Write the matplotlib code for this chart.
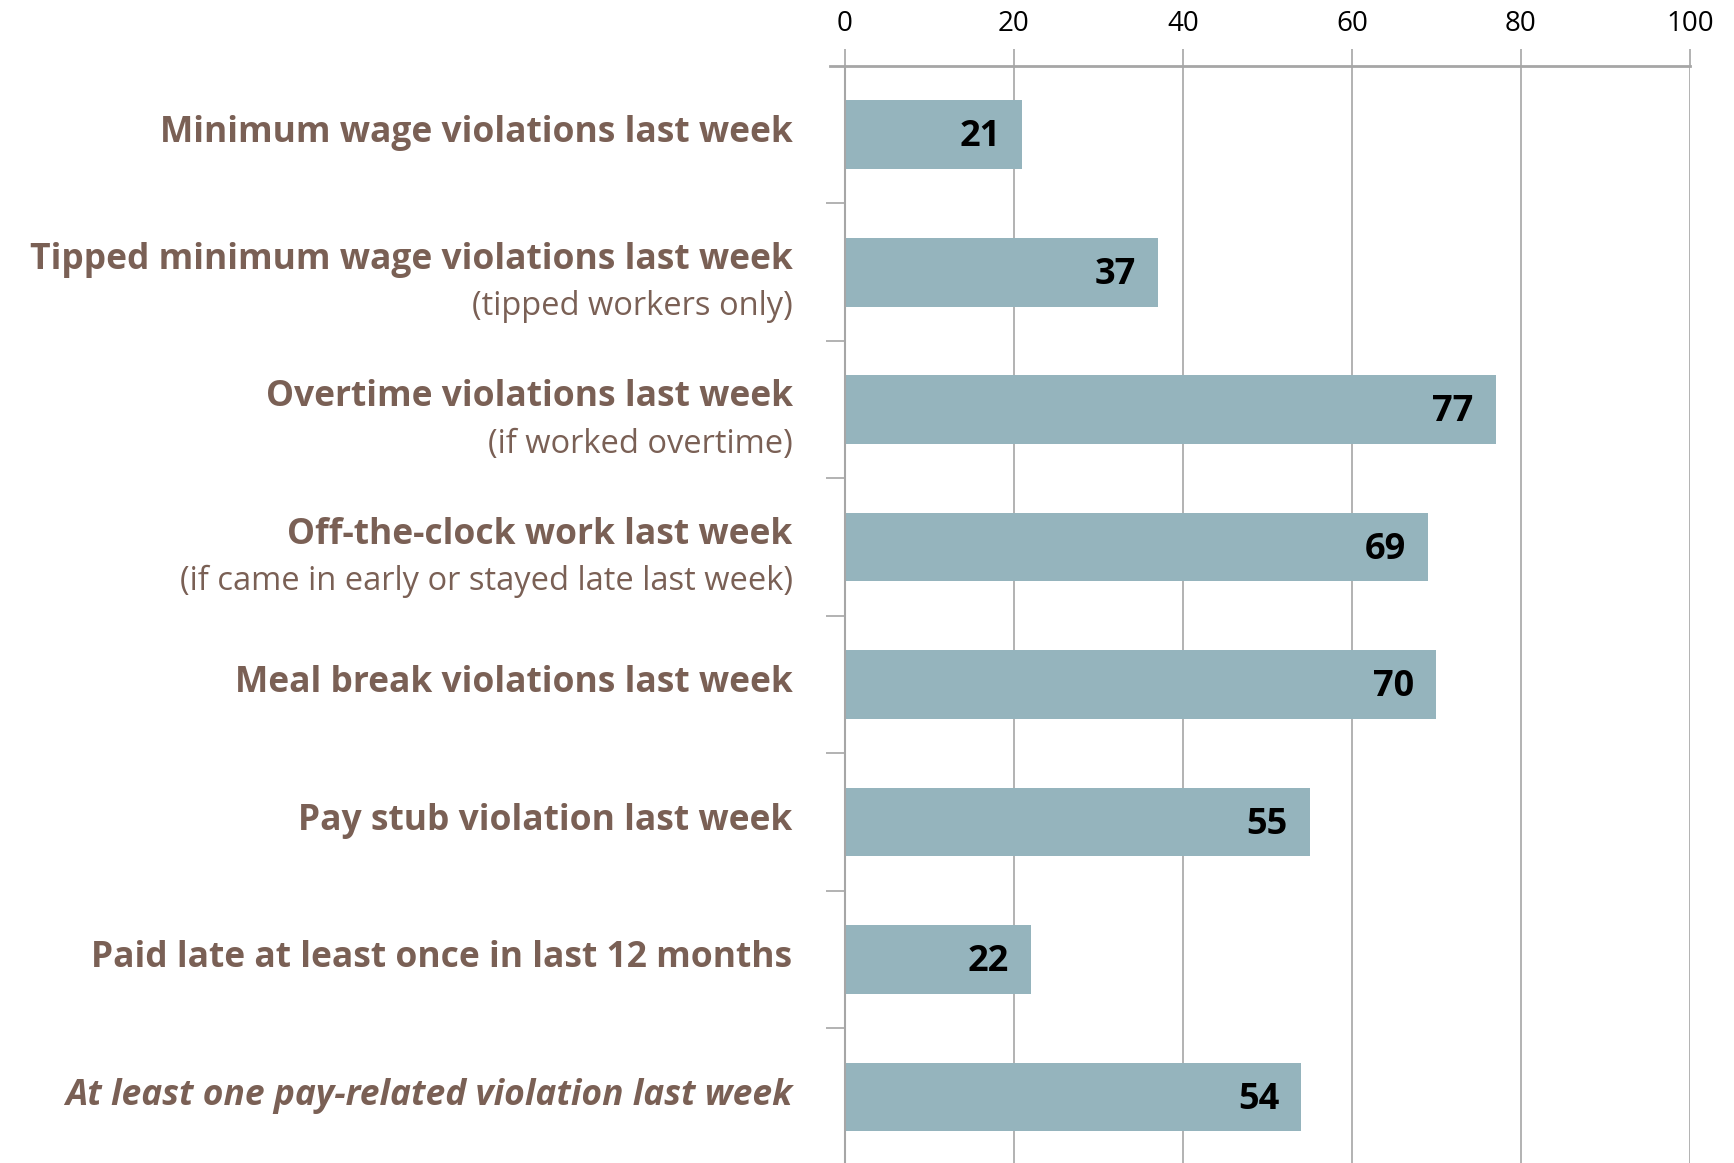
import matplotlib
matplotlib.use("Agg")
import matplotlib.pyplot as plt

categories = [
    "Minimum wage violations last week",
    "Tipped minimum wage violations last week",
    "Overtime violations last week",
    "Off-the-clock work last week",
    "Meal break violations last week",
    "Pay stub violation last week",
    "Paid late at least once in last 12 months",
    "At least one pay-related violation last week",
]
subtitles = [
    "",
    "(tipped workers only)",
    "(if worked overtime)",
    "(if came in early or stayed late last week)",
    "",
    "",
    "",
    "",
]
values = [21, 37, 77, 69, 70, 55, 22, 54]
xticks = [0, 20, 40, 60, 80, 100]

plt.rcParams['font.family'] = ['Open Sans', 'DejaVu Sans']

BAR = "#95B4BD"
TXT = "#7A6055"
GRID = "#A6A6A6"

fig = plt.figure(figsize=(17.34, 11.63), dpi=100)
ax = fig.add_axes([0.4873, 0.0, 0.9746 - 0.4873, 0.9433])

ypos = list(range(len(categories)))
ax.barh(ypos, values, height=0.5, color=BAR, zorder=2)
ax.set_xlim(0, 100)
ax.set_ylim(7.48, -0.5)

ax.xaxis.tick_top()
ax.set_xticks(xticks)
ax.set_xticklabels([str(t) for t in xticks], fontsize=20, color="black")
ax.tick_params(axis='x', length=12, width=1.2, color=GRID, pad=8)
ax.grid(axis='x', color=GRID, linewidth=1.2, zorder=1)

ax.set_yticks([i + 0.5 for i in range(len(categories) - 1)])
ax.set_yticklabels([])
ax.tick_params(axis='y', length=14, width=1.2, color=GRID)

for s in ['bottom', 'right']:
    ax.spines[s].set_visible(False)
ax.spines['left'].set_color(GRID)
ax.spines['left'].set_linewidth(1.5)
ax.spines['top'].set_color(GRID)
ax.spines['top'].set_linewidth(2)
ax.spines['top'].set_bounds(-1.8, 100)
ax.spines['top'].set_clip_on(False)

for i, v in enumerate(values):
    ax.text(v - 2.6, i + 0.02, str(v), ha='right', va='center', fontsize=26,
            fontweight='bold', color='black', zorder=3)

xl = -6.2
for i, (c, s) in enumerate(zip(categories, subtitles)):
    style = 'italic' if i == len(categories) - 1 else 'normal'
    if s:
        ax.text(xl, i - 0.09, c, ha='right', va='center', fontsize=25.5,
                fontweight='bold', color=TXT, style=style, clip_on=False)
        ax.text(xl, i + 0.25, s, ha='right', va='center', fontsize=23.5,
                color=TXT, clip_on=False)
    else:
        ax.text(xl, i - 0.01, c, ha='right', va='center', fontsize=25.5,
                fontweight='bold', color=TXT, style=style, clip_on=False)

fig.savefig("out.png", dpi=100)
